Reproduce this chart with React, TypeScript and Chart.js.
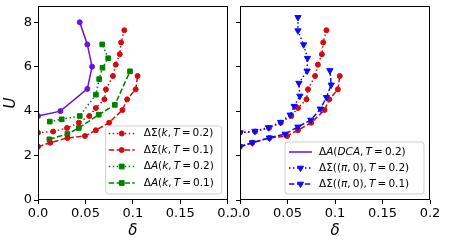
import { useEffect, useRef } from 'react';
import { Chart, registerables } from 'chart.js';

Chart.register(...registerables);

// ---------- data ----------
const xTicks = [0, 0.05, 0.1, 0.15, 0.2];
const xTickLabels = ['0.0', '0.05', '0.1', '0.15', '0.2'];
const yTicks = [0, 2, 4, 6, 8];
const yTickLabels = ['0', '2', '4', '6', '8'];

const dcaDelta = [0, 0.0236, 0.052, 0.057, 0.052, 0.044];
const dcaU = [3.78, 4.0, 5.0, 6.0, 7.0, 8.0];

const sigKT2Delta = [0, 0.016, 0.0306, 0.043, 0.054, 0.061, 0.07, 0.0716, 0.079, 0.082, 0.0862, 0.0876, 0.091];
const sigKT2U = [3.03, 3.08, 3.24, 3.48, 3.78, 4.14, 4.53, 4.98, 5.58, 6.09, 6.56, 7.09, 7.64];

const sigKT1Delta = [0, 0.013, 0.031, 0.0495, 0.061, 0.075, 0.089, 0.094, 0.103, 0.105];
const sigKT1U = [2.4, 2.58, 2.79, 2.88, 3.14, 3.48, 4.05, 4.53, 4.98, 5.58];

const aKT2Delta = [0.0124, 0.025, 0.044, 0.061, 0.0645, 0.068, 0.074, 0.0677];
const aKT2U = [3.53, 3.63, 3.78, 4.74, 5.44, 5.95, 6.38, 7.0];

const aKT1Delta = [0.012, 0.031, 0.043, 0.064, 0.081, 0.097];
const aKT1U = [2.73, 2.97, 3.24, 3.84, 4.28, 5.79];

const sigPiT2Delta = [0, 0.0157, 0.03, 0.0427, 0.0528, 0.057, 0.063, 0.062, 0.0706, 0.071, 0.067, 0.061, 0.061];
const sigPiT2U = [3.03, 3.1, 3.26, 3.5, 3.83, 4.22, 4.68, 5.26, 5.81, 6.38, 6.99, 7.62, 8.22];

const sigPiT1Delta = [0, 0.013, 0.031, 0.0475, 0.061, 0.0745, 0.0846, 0.091, 0.096, 0.0946];
const sigPiT1U = [2.4, 2.58, 2.8, 2.97, 3.29, 3.6, 4.1, 4.62, 5.18, 5.83];

type Seg = [string, boolean];
const SP = '\u2009';
const labelSigKT2: Seg[] = [['ΔΣ(', false], ['k', true], [',' + SP, false], ['T', true], [SP + '=' + SP + '0.2)', false]];
const labelSigKT1: Seg[] = [['ΔΣ(', false], ['k', true], [',' + SP, false], ['T', true], [SP + '=' + SP + '0.1)', false]];
const labelAKT2: Seg[] = [['Δ', false], ['A', true], ['(', false], ['k', true], [',' + SP, false], ['T', true], [SP + '=' + SP + '0.2)', false]];
const labelAKT1: Seg[] = [['Δ', false], ['A', true], ['(', false], ['k', true], [',' + SP, false], ['T', true], [SP + '=' + SP + '0.1)', false]];
const labelDCA: Seg[] = [['Δ', false], ['A', true], ['(', false], ['DCA', true], [',' + SP, false], ['T', true], [SP + '=' + SP + '0.2)', false]];
const labelSigPiT2: Seg[] = [['ΔΣ((', false], ['π', true], [',' + SP + '0),' + SP, false], ['T', true], [SP + '=' + SP + '0.2)', false]];
const labelSigPiT1: Seg[] = [['ΔΣ((', false], ['π', true], [',' + SP + '0),' + SP, false], ['T', true], [SP + '=' + SP + '0.1)', false]];

// ---------- styles ----------
const RED = '#d40a10';
const GREEN = '#008000';
const BLUE = '#0a0aff';
const PURPLE = '#6e10dc';
const DOT = [1.5, 2.5];
const DASH = [5.5, 2.4];
const FONT = '"DejaVu Sans", sans-serif';

type Marker = 'circle' | 'rect' | 'tri' | 'none';

function series(xs: number[], ys: number[], color: string, dash: number[], marker: Marker) {
  const style = marker === 'rect' ? 'rect' : marker === 'tri' ? 'triangle' : 'circle';
  const radius = marker === 'none' ? 0 : marker === 'rect' ? 3.3 : marker === 'tri' ? 3.6 : 2.5;
  return {
    data: xs.map((x, i) => ({ x, y: ys[i] })),
    showLine: true,
    borderColor: color,
    backgroundColor: color,
    borderWidth: 1.5,
    borderDash: dash,
    pointStyle: style,
    pointRadius: radius,
    pointHoverRadius: radius,
    pointBorderColor: color,
    pointBackgroundColor: color,
    pointBorderWidth: 1,
    pointRotation: marker === 'tri' ? 180 : 0,
    tension: 0,
    fill: false,
    clip: 0,
  };
}

interface LegendEntry { color: string; dash: number[]; marker: Marker; label: Seg[] }
interface LegendSpec {
  right: number; bottom: number; w: number; h: number;
  rows: number[]; lineX0: number; lineX1: number; textX: number; entries: LegendEntry[];
}

function drawMarker(ctx: CanvasRenderingContext2D, m: Marker, x: number, y: number) {
  ctx.setLineDash([]);
  ctx.beginPath();
  if (m === 'circle') ctx.arc(x, y, 2.5, 0, Math.PI * 2);
  else if (m === 'rect') ctx.rect(x - 2.4, y - 2.4, 4.8, 4.8);
  else if (m === 'tri') {
    ctx.moveTo(x - 3.1, y - 1.8);
    ctx.lineTo(x + 3.1, y - 1.8);
    ctx.lineTo(x, y + 3.6);
    ctx.closePath();
  } else return;
  ctx.fill();
  ctx.lineWidth = 1;
  ctx.stroke();
}

function makePlugin(legend: LegendSpec) {
  return {
    id: 'frameLegend',
    afterDraw(chart: any) {
      const { ctx, chartArea: a } = chart;
      ctx.save();
      ctx.strokeStyle = '#000';
      ctx.lineWidth = 1;
      ctx.setLineDash([]);
      ctx.strokeRect(Math.round(a.left) + 0.5, Math.round(a.top) + 0.5, Math.round(a.right - a.left) - 1, Math.round(a.bottom - a.top) - 1);

      const bx = a.right - legend.right - legend.w;
      const by = a.bottom - legend.bottom - legend.h;
      ctx.beginPath();
      const r = 3;
      ctx.moveTo(bx + r, by);
      ctx.arcTo(bx + legend.w, by, bx + legend.w, by + legend.h, r);
      ctx.arcTo(bx + legend.w, by + legend.h, bx, by + legend.h, r);
      ctx.arcTo(bx, by + legend.h, bx, by, r);
      ctx.arcTo(bx, by, bx + legend.w, by, r);
      ctx.closePath();
      ctx.fillStyle = 'rgba(255,255,255,0.85)';
      ctx.fill();
      ctx.strokeStyle = '#d0d0d0';
      ctx.stroke();

      legend.entries.forEach((e, i) => {
        const y = by + legend.rows[i];
        ctx.strokeStyle = e.color;
        ctx.fillStyle = e.color;
        ctx.lineWidth = 1.5;
        ctx.setLineDash(e.dash);
        ctx.beginPath();
        ctx.moveTo(bx + legend.lineX0, y);
        ctx.lineTo(bx + legend.lineX1, y);
        ctx.stroke();
        drawMarker(ctx, e.marker, bx + (legend.lineX0 + legend.lineX1) / 2, y);
        let tx = bx + legend.textX;
        ctx.fillStyle = '#000';
        ctx.textBaseline = 'middle';
        ctx.textAlign = 'left';
        for (const [t, it] of e.label) {
          ctx.font = `${it ? 'italic ' : ''}10.5px ${FONT}`;
          ctx.fillText(t, tx, y);
          tx += ctx.measureText(t).width;
        }
      });
      ctx.restore();
    },
  };
}

function noPad(s: any) {
  s.paddingLeft = 0;
  s.paddingRight = 0;
  s.paddingTop = 0;
  s.paddingBottom = 0;
}

function makeOptions(showYLabels: boolean, yWidth: number, padRight: number) {
  return {
    animation: false,
    responsive: false,
    layout: { padding: { left: 0, right: padRight, top: 6, bottom: 0 } },
    plugins: { legend: { display: false }, tooltip: { enabled: false } },
    events: [],
    scales: {
      x: {
        type: 'linear',
        min: 0,
        max: 0.2,
        afterBuildTicks: (s: any) => { s.ticks = xTicks.map((v) => ({ value: v })); },
        afterFit: (s: any) => { s.height = 44; noPad(s); },
        ticks: {
          callback: (v: number) => xTickLabels[xTicks.indexOf(v)] ?? '',
          font: { family: FONT, size: 13 },
          color: '#000',
          padding: 2,
          maxRotation: 0,
          autoSkip: false,
        },
        grid: { drawOnChartArea: false, drawTicks: true, tickLength: 4, color: '#000', lineWidth: 1 },
        border: { display: false },
        title: { display: true, text: 'δ', color: '#000', font: { family: FONT, size: 15, style: 'italic' }, padding: { top: 0, bottom: 4 } },
      },
      y: {
        type: 'linear',
        min: 0,
        max: 8.73,
        afterBuildTicks: (s: any) => { s.ticks = yTicks.map((v) => ({ value: v })); },
        afterFit: (s: any) => { s.width = yWidth; noPad(s); },
        ticks: {
          display: showYLabels,
          callback: (v: number) => yTickLabels[yTicks.indexOf(v)] ?? '',
          font: { family: FONT, size: 13 },
          color: '#000',
          padding: 2,
        },
        grid: { drawOnChartArea: false, drawTicks: true, tickLength: 4, color: '#000', lineWidth: 1 },
        border: { display: false },
        title: { display: showYLabels, text: 'U', color: '#000', font: { family: FONT, size: 15, style: 'italic' }, padding: { top: 2, bottom: 0 } },
      },
    },
  };
}

function Panel({ left, width, which }: { left: number; width: number; which: 'L' | 'R' }) {
  const ref = useRef<HTMLCanvasElement | null>(null);
  useEffect(() => {
    if (!ref.current) return;
    let datasets: any[];
    let legend: LegendSpec;
    let opts: any;
    if (which === 'L') {
      datasets = [
        series(dcaDelta, dcaU, PURPLE, [], 'circle'),
        series(sigKT2Delta, sigKT2U, RED, DOT, 'circle'),
        series(sigKT1Delta, sigKT1U, RED, DASH, 'circle'),
        series(aKT2Delta, aKT2U, GREEN, DOT, 'rect'),
        series(aKT1Delta, aKT1U, GREEN, DASH, 'rect'),
      ];
      legend = {
        right: 6, bottom: 6, w: 116, h: 68,
        rows: [7.5, 24, 40.5, 57], lineX0: 3, lineX1: 29, textX: 38,
        entries: [
          { color: RED, dash: DOT, marker: 'circle', label: labelSigKT2 },
          { color: RED, dash: DASH, marker: 'circle', label: labelSigKT1 },
          { color: GREEN, dash: DOT, marker: 'rect', label: labelAKT2 },
          { color: GREEN, dash: DASH, marker: 'rect', label: labelAKT1 },
        ],
      };
      opts = makeOptions(true, 38, 0);
    } else {
      datasets = [
        series(sigPiT2Delta, sigPiT2U, BLUE, DOT, 'tri'),
        series(sigPiT1Delta, sigPiT1U, BLUE, DASH, 'tri'),
        series(sigKT2Delta, sigKT2U, RED, DOT, 'circle'),
        series(sigKT1Delta, sigKT1U, RED, DASH, 'circle'),
      ];
      legend = {
        right: 6, bottom: 6, w: 139, h: 52,
        rows: [10, 26, 42], lineX0: 4, lineX1: 27, textX: 34,
        entries: [
          { color: PURPLE, dash: [], marker: 'none', label: labelDCA },
          { color: BLUE, dash: DOT, marker: 'tri', label: labelSigPiT2 },
          { color: BLUE, dash: DASH, marker: 'tri', label: labelSigPiT1 },
        ],
      };
      opts = makeOptions(false, 8, 27);
    }
    const chart = new Chart(ref.current, {
      type: 'scatter',
      data: { datasets },
      options: opts,
      plugins: [makePlugin(legend)],
    } as any);
    return () => chart.destroy();
  }, [which]);
  return (
    <canvas
      ref={ref}
      width={width}
      height={244}
      style={{ position: 'absolute', left, top: 0, width, height: 244 }}
    />
  );
}

export default function App() {
  return (
    <div style={{ position: 'absolute', left: 0, top: 0, width: 457, height: 244, background: '#fff' }}>
      <Panel left={0} width={232} which="L" />
      <Panel left={232} width={225} which="R" />
    </div>
  );
}
